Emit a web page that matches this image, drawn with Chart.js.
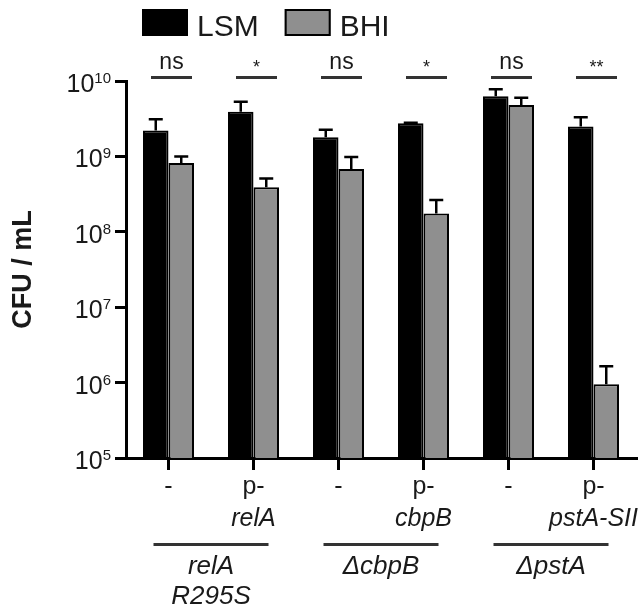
<!DOCTYPE html>
<html lang="en">
<head>
  <meta charset="UTF-8" />
  <title>CFU / mL – LSM vs BHI</title>
  <script src="https://cdn.jsdelivr.net/npm/chart.js"></script>
  <style>
    body { margin: 0; background: #fff; }
    canvas { display: block; }
  </style>
</head>
<body>
  <canvas id="cfuChart" width="641" height="610"></canvas>

  <script>
    const categories = ["-", "p-relA", "-", "p-cbpB", "-", "p-pstA-SII"];
    const tickTop = ["-", "p-", "-", "p-", "-", "p-"];
    const tickGene = ["", "relA", "", "cbpB", "", "pstA-SII"];
    const groupNames = [["relA", "R295S"], ["\u0394cbpB"], ["\u0394pstA"]];

    const lsm = [2.2e9, 3.9e9, 1.8e9, 2.75e9, 6.3e9, 2.5e9];
    const lsmErr = [3.1e9, 5.3e9, 2.25e9, 2.8e9, 7.8e9, 3.3e9];
    const bhi = [8.2e8, 3.9e8, 6.8e8, 1.75e8, 4.8e9, 9.5e5];
    const bhiErr = [1.0e9, 5.1e8, 9.8e8, 2.65e8, 6.0e9, 1.65e6];
    const signif = ["ns", "*", "ns", "*", "ns", "**"];

    const yTickExponents = [5, 6, 7, 8, 9, 10];

    const FONT = "'Liberation Sans', Arial, sans-serif";
    const TEXT = "#1a1a1a";
    const GRAY = "#8f8f8f";

    // upper error bars (mean + SD)
    const errorBars = {
      id: "errorBars",
      afterDatasetsDraw(chart) {
        const ctx = chart.ctx;
        const y = chart.scales.y;
        const tops = [lsmErr, bhiErr];
        ctx.save();
        ctx.strokeStyle = "#000";
        ctx.lineWidth = 2.5;
        chart.data.datasets.forEach((ds, di) => {
          chart.getDatasetMeta(di).data.forEach((bar, i) => {
            const ey = y.getPixelForValue(tops[di][i]);
            ctx.beginPath();
            ctx.moveTo(bar.x, bar.y);
            ctx.lineTo(bar.x, ey);
            ctx.moveTo(bar.x - 7, ey);
            ctx.lineTo(bar.x + 7, ey);
            ctx.stroke();
          });
        });
        ctx.restore();
      }
    };

    // legend, y tick labels with exponents, x labels, groups, significance
    const decorations = {
      id: "decorations",
      afterDraw(chart) {
        const ctx = chart.ctx;
        const x = chart.scales.x;
        const y = chart.scales.y;
        ctx.save();
        ctx.fillStyle = TEXT;

        // legend
        let lx = 142;
        ctx.font = "30px " + FONT;
        ctx.textBaseline = "alphabetic";
        ctx.textAlign = "left";
        chart.data.datasets.forEach(ds => {
          ctx.fillStyle = ds.backgroundColor;
          ctx.fillRect(lx, 9, 46, 27);
          ctx.strokeStyle = "#000";
          ctx.lineWidth = 2;
          ctx.strokeRect(lx + 1, 10, 44, 25);
          ctx.fillStyle = TEXT;
          ctx.fillText(ds.label, lx + 55, 36);
          lx += 55 + ctx.measureText(ds.label).width + 26;
        });

        // y tick labels 10^n
        yTickExponents.forEach(e => {
          const py = y.getPixelForValue(Math.pow(10, e));
          ctx.font = "15px " + FONT;
          const ew = ctx.measureText(String(e)).width;
          const bx = 111 - ew;
          ctx.textAlign = "left";
          ctx.fillText(String(e), bx, py + 2);
          ctx.font = "25px " + FONT;
          ctx.textAlign = "right";
          ctx.fillText("10", bx, py + 11);
        });

        // x labels
        ctx.textAlign = "center";
        categories.forEach((c, i) => {
          const px = x.getPixelForValue(i);
          ctx.font = "25px " + FONT;
          ctx.fillText(tickTop[i], px, 494);
          if (tickGene[i]) {
            ctx.font = "italic 25px " + FONT;
            ctx.fillText(tickGene[i], px, 526);
          }
        });

        // strain groups
        ctx.strokeStyle = "#333";
        ctx.lineWidth = 3;
        groupNames.forEach((lines, g) => {
          const x0 = x.getPixelForValue(g * 2) - 15;
          const x1 = x.getPixelForValue(g * 2 + 1) + 15;
          ctx.beginPath();
          ctx.moveTo(x0, 544.5);
          ctx.lineTo(x1, 544.5);
          ctx.stroke();
          ctx.font = "italic 26px " + FONT;
          lines.forEach((t, k) => ctx.fillText(t, (x0 + x1) / 2, 574 + k * 30));
        });

        // significance marks
        signif.forEach((s, i) => {
          const cx = x.getPixelForValue(i) + 3;
          ctx.beginPath();
          ctx.moveTo(cx - 20.5, 77.5);
          ctx.lineTo(cx + 20.5, 77.5);
          ctx.stroke();
          if (s === "ns") {
            ctx.font = "23px " + FONT;
            ctx.fillText(s, cx, 69);
          } else {
            ctx.font = "18px " + FONT;
            ctx.fillText(s, cx, 73);
          }
        });

        ctx.restore();
      }
    };

    new Chart(document.getElementById("cfuChart"), {
      type: "bar",
      data: {
        labels: categories,
        datasets: [
          { label: "LSM", data: lsm, backgroundColor: "#000", borderColor: "#000", borderWidth: 2 },
          { label: "BHI", data: bhi, backgroundColor: GRAY, borderColor: "#000", borderWidth: 2 }
        ]
      },
      options: {
        responsive: false,
        animation: false,
        devicePixelRatio: 1,
        layout: { padding: { top: 81, right: 5, left: 0, bottom: 0 } },
        plugins: {
          legend: { display: false },
          tooltip: { enabled: false }
        },
        datasets: {
          bar: { categoryPercentage: 0.6, barPercentage: 1 }
        },
        scales: {
          x: {
            offset: true,
            grid: { offset: false, drawOnChartArea: false, color: "#000", lineWidth: 3, tickLength: 12 },
            border: { color: "#000", width: 3 },
            ticks: { display: false },
            afterFit(scale) { scale.height = 152; }
          },
          y: {
            type: "logarithmic",
            min: 1e5,
            max: 1e10,
            grid: { drawOnChartArea: false, color: "#000", lineWidth: 3, tickLength: 11 },
            border: { color: "#000", width: 3 },
            ticks: { display: false },
            title: {
              display: true,
              text: "CFU / mL",
              color: TEXT,
              font: { family: FONT, size: 27, weight: "bold" },
              padding: { top: 7, bottom: 0 }
            },
            afterBuildTicks(scale) {
              scale.ticks = yTickExponents.map(e => ({ value: Math.pow(10, e) }));
            },
            afterFit(scale) { scale.width = 126; }
          }
        }
      },
      plugins: [errorBars, decorations]
    });
  </script>
</body>
</html>
